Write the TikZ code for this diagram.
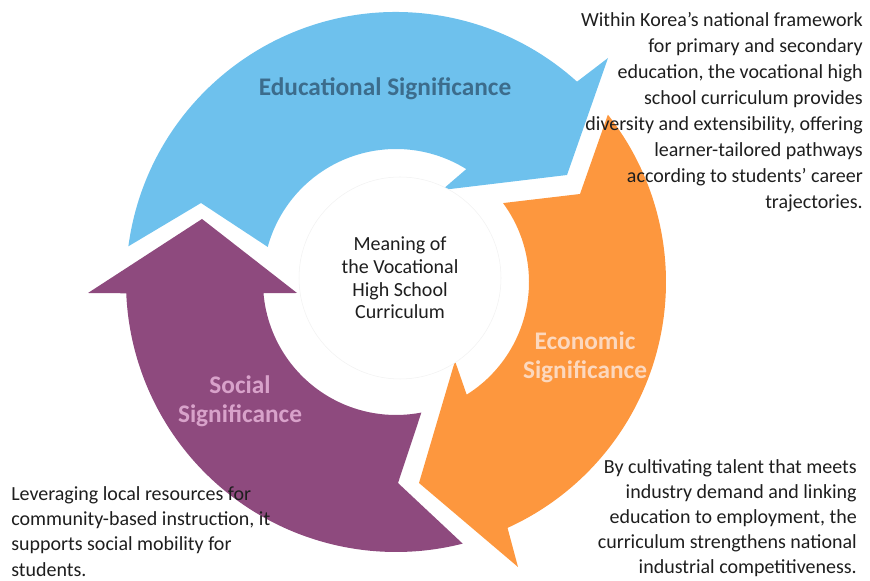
\documentclass[tikz,border=0pt]{standalone}
\usepackage{fontspec}
\setmainfont{Carlito}
\usetikzlibrary{positioning}

\definecolor{eduBlue}{RGB}{110,193,237}
\definecolor{ecoOrange}{RGB}{253,151,62}
\definecolor{socPurple}{RGB}{142,74,126}
\definecolor{eduText}{RGB}{60,108,140}
\definecolor{ecoText}{RGB}{252,216,190}
\definecolor{socText}{RGB}{216,162,202}
\definecolor{bodyText}{RGB}{30,30,30}

\begin{document}
\begin{tikzpicture}[
    x=0.75pt, y=0.75pt,
    label/.style={font=\fontsize{19}{21.75}\selectfont\bfseries, align=center, inner sep=0pt},
    note/.style={font=\fontsize{15}{19.5}\selectfont, text=bodyText, inner sep=0pt},
    hub/.style={circle, draw=black!5, fill=white, minimum size=151.5pt, align=center, text=bodyText, font=\fontsize{15}{17}\selectfont}
]

% Canvas
\useasboundingbox (0,0) rectangle (870,581);

% Cycle arrows
\begin{scope}[shift={(396,299)}]
\fill[eduBlue] (172.4:270) arc[start angle=172.4, end angle=47.9, radius=270] -- (212,224) -- (171,107) -- (46,92)
    -- (58.1:133) arc[start angle=58.1, end angle=164.7, radius=133] -- (-195,79) -- cycle;
\fill[ecoOrange] (38.3:270) arc[start angle=38.3, end angle=-65.6, radius=270] -- (122,-285) -- (23,-201) -- (59,-79)
    -- (-57.9:133) arc[start angle=-57.9, end angle=36.4, radius=133] -- (184,88) -- cycle;
\fill[socPurple] (-75.7:270) arc[start angle=-75.7, end angle=-177.6, radius=270] -- (-308,-11) -- (-194,63) -- (-99,-11)
    -- (-175.2:133) arc[start angle=-175.2, end angle=-79, radius=133] -- (2,-201) -- cycle;
\end{scope}

% Hub
\node[hub] (hub) at (400,303) {Meaning of\\the Vocational\\High School\\Curriculum};

% Arrow labels
\node[label, text=eduText] (edu) at (385,492) {Educational Significance};
\node[label, text=ecoText] (eco) at (585,224) {Economic\\Significance};
\node[label, text=socText] (soc) at (240,180) {Social\\Significance};

% Notes
\node[note, align=right, anchor=north east] (eduNote) at (863,569) {Within Korea’s national framework\\for primary and secondary\\education, the vocational high\\school curriculum provides\\diversity and extensibility, offering\\learner-tailored pathways\\according to students’ career\\trajectories.};
\node[note, align=right, anchor=north east, font=\fontsize{15}{18.75}\selectfont] (ecoNote) at (857,122) {By cultivating talent that meets\\industry demand and linking\\education to employment, the\\curriculum strengthens national\\industrial competitiveness.};
\node[note, align=left, anchor=north west, font=\fontsize{15}{19}\selectfont] (socNote) at (11,95) {Leveraging local resources for\\community-based instruction, it\\supports social mobility for\\students.};

\end{tikzpicture}
\end{document}
